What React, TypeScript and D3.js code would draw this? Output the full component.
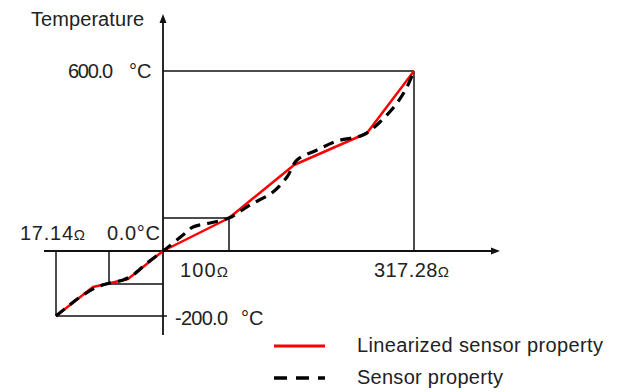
import React from "react";
import * as d3 from "d3";

// Schematic units: origin where the axes cross (0 Ω-offset, 0 °C)
const refX = [-107, -54, 66, 251]; // 17.14Ω, inner, 100Ω, 317.28Ω
const refY = [-65, -33, 33, 180]; // -200 °C, inner, 100Ω level, 600 °C

const linearX = [-107, -70, -35, 0, 66, 131, 204, 251];
const linearY = [-65, -36, -28, 0, 33, 86, 118, 180];

const sensorX = [-107, -96, -83, -66, -53, -40, -30, -16, 0, 4, 20, 30, 47, 66, 87, 110, 124, 134, 154, 174, 200, 217, 234, 244, 251];
const sensorY = [-65, -56, -46, -36, -32, -29, -24, -12, 0, 3, 16, 24, 28, 33, 46, 59, 74, 91, 101, 110, 116, 129, 148, 164, 180];

const axisTitle = "Temperature";
const tempValues = ["600.0", "0.0", "-200.0"];
const tempUnit = "°C";
const resLabels = ["17.14", "100", "317.28"];
const resUnit = "Ω";
const legendLabels = ["Linearized sensor property", "Sensor property"];

const W = 618;
const H = 392;

export default function App() {
  const x = d3.scaleLinear().domain([-119, 337]).range([44, 500]);
  const y = d3.scaleLinear().domain([-84, 237]).range([335, 14]);

  const line = d3
    .line<[number, number]>()
    .x((d) => x(d[0]))
    .y((d) => y(d[1]));
  const smooth = d3
    .line<[number, number]>()
    .x((d) => x(d[0]))
    .y((d) => y(d[1]))
    .curve(d3.curveCatmullRom.alpha(0.5));

  const linPts = linearX.map((v, i) => [v, linearY[i]] as [number, number]);
  const senPts = sensorX.map((v, i) => [v, sensorY[i]] as [number, number]);

  const x0 = x(0);
  const y0 = y(0);
  const font = "'Liberation Sans', Arial, sans-serif";
  const stroke = "#111";

  return (
    <svg
      width={W}
      height={H}
      style={{ position: "absolute", left: 0, top: 0, background: "#fff" }}
      fontFamily={font}
      fontSize={20}
    >
      {/* reference boxes */}
      <g stroke={stroke} strokeWidth={1.5} fill="none">
        <line x1={x0} y1={y(refY[3])} x2={x(refX[3])} y2={y(refY[3])} />
        <line x1={x(refX[3])} y1={y(refY[3])} x2={x(refX[3])} y2={y0} />
        <line x1={x0} y1={y(refY[2])} x2={x(refX[2])} y2={y(refY[2])} />
        <line x1={x(refX[2])} y1={y(refY[2])} x2={x(refX[2])} y2={y0} />
        <line x1={x(refX[0])} y1={y0} x2={x(refX[0])} y2={y(refY[0])} />
        <line x1={x(refX[0])} y1={y(refY[0])} x2={x0 + 4} y2={y(refY[0])} />
        <line x1={x(refX[1])} y1={y0} x2={x(refX[1])} y2={y(refY[1])} />
        <line x1={x(refX[1])} y1={y(refY[1])} x2={x0} y2={y(refY[1])} />
      </g>

      {/* axes */}
      <g stroke={stroke} strokeWidth={1.8}>
        <line x1={x(-119)} y1={y0} x2={x(330)} y2={y0} />
        <line x1={x0} y1={y(-84)} x2={x0} y2={y(228)} />
      </g>
      <path
        d={`M${x(337)},${y0} L${x(328)},${y0 - 3.5} L${x(328)},${y0 + 3.5} Z`}
        fill={stroke}
      />
      <path
        d={`M${x0},${y(237)} L${x0 - 3.5},${y(228)} L${x0 + 3.5},${y(228)} Z`}
        fill={stroke}
      />

      {/* curves */}
      <path d={line(linPts) || ""} fill="none" stroke="#ff0000" strokeWidth={2.5} strokeLinejoin="round" />
      <path
        d={smooth(senPts) || ""}
        fill="none"
        stroke="#000"
        strokeWidth={3.2}
        strokeDasharray="11 7"
      />

      {/* labels */}
      <g fill="#222">
        <text x={31} y={26} textLength={113} lengthAdjust="spacing">
          {axisTitle}
        </text>
        {/* 600.0 °C */}
        <text x={x0 - 95} y={y(refY[3]) + 7} textLength={45} lengthAdjust="spacing">
          {tempValues[0]}
        </text>
        <text x={x0 - 34} y={y(refY[3]) + 7}>
          {tempUnit}
        </text>
        {/* 0.0°C */}
        <text x={x0 - 56} y={y0 - 11} textLength={53} lengthAdjust="spacing">
          {tempValues[1] + tempUnit}
        </text>
        {/* -200.0 °C */}
        <text x={x0 + 12} y={y(refY[0]) + 9} textLength={53} lengthAdjust="spacing">
          {tempValues[2]}
        </text>
        <text x={x0 + 78} y={y(refY[0]) + 9}>
          {tempUnit}
        </text>
        <text x={x(refX[0]) - 36} y={y0 - 11} textLength={65} lengthAdjust="spacing">
          {resLabels[0]}
          <tspan fontSize={15}>{resUnit}</tspan>
        </text>
        <text x={x(refX[2]) - 49} y={y0 + 26} textLength={48} lengthAdjust="spacing">
          {resLabels[1]}
          <tspan fontSize={15}>{resUnit}</tspan>
        </text>
        <text x={x(refX[3]) - 40} y={y0 + 26} textLength={75} lengthAdjust="spacing">
          {resLabels[2]}
          <tspan fontSize={15}>{resUnit}</tspan>
        </text>
      </g>

      {/* legend */}
      <line x1={274} y1={346} x2={325} y2={346} stroke="#ff0000" strokeWidth={3} />
      <line x1={274} y1={378} x2={325} y2={378} stroke="#000" strokeWidth={3.5} strokeDasharray="13 9" />
      <text x={357} y={352} fill="#222" textLength={246} lengthAdjust="spacing">
        {legendLabels[0]}
      </text>
      <text x={357} y={384} fill="#222" textLength={146} lengthAdjust="spacing">
        {legendLabels[1]}
      </text>
    </svg>
  );
}
